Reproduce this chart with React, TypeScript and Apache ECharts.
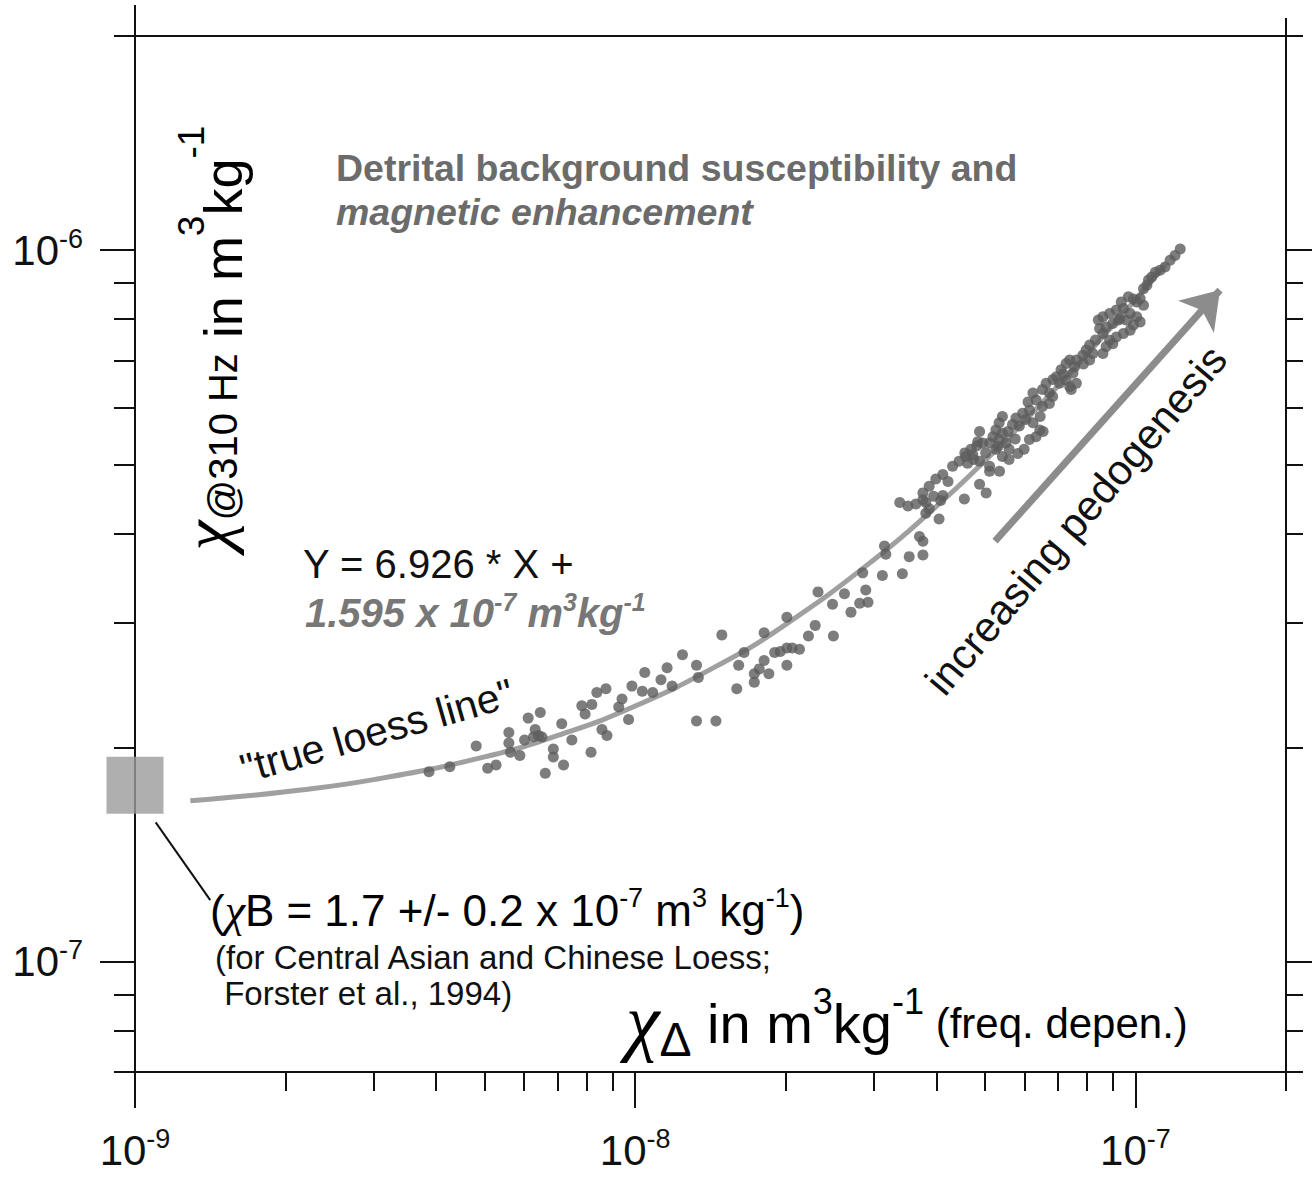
import React, { useEffect, useRef } from "react";
import * as echarts from "echarts";

const FONT = "'Liberation Sans', Arial, Helvetica, sans-serif";
const SERIF = "'Liberation Serif', 'Times New Roman', serif";
const X_UNIT = 1e-9; // chi_FD values below are in 1e-9 m3/kg
const Y_UNIT = 1e-7; // chi_310Hz values below are in 1e-7 m3/kg

const X_MIN = 1e-9;
const X_MAX = 2e-7;
const Y_MIN = 7e-8;
const Y_MAX = 2e-6;

// measured samples (x: chi frequency dependent, y: chi @ 310 Hz)
const chiFdNano = [
  3.87, 4.26, 4.81, 5.07, 5.27, 5.59, 5.63, 5.59, 5.88, 6.01, 6.26, 6.51, 6.31, 6.41, 6.11, 6.46, 6.86, 6.86, 7.19, 6.61,
  7.13, 7.47, 8.16, 8.58, 8.78, 7.82, 8.19, 7.94, 8.38, 8.74, 9.41, 9.27, 9.7, 9.85, 10.33, 10.84, 10.45, 11.26, 11.58, 11.85,
  12.43, 13.26, 13.37, 13.26, 14.5, 14.9,
  15.96, 16.1, 16.5, 17.3, 17.7, 18.1, 18.5, 17.3, 18.1, 19.0, 19.5, 20.1, 20.6, 21.3, 20.1, 20.1, 22.2, 22.9, 24.9, 23.2,
  24.8, 26.2, 27.0, 28.1, 29.2, 28.9, 28.5, 31.2, 34.2, 31.5, 31.7, 35.3, 37.6, 37.0, 37.6, 33.8, 36.4, 37.6, 38.7, 38.7,
  39.5, 41.2, 40.8, 40.5, 45.5, 48.8, 50.3, 44.4, 45.8, 47.3, 48.8, 51.1, 53.5, 48.8,
  122.9, 120, 117.3, 114.6, 112, 107.8, 105.4, 103.8, 102.2, 100.6, 99.1, 103.8, 94.6, 91.6, 88.8, 86.1, 97.6, 100.6, 102.2, 99.1,
  96.1, 93.1, 90.1, 87.4, 84.8, 86.1, 97.6, 94.6, 91.6, 88.8, 87.4, 86.1, 90.1, 81.0, 79.7, 78.5, 76.2, 73.9, 72.7, 75.6,
  81.0, 82.2, 71.0, 69.5, 70.5, 72.7, 75.0, 76.2, 73.9, 66.3, 65.2, 67.3, 62.4, 63.3, 65.2, 67.3, 68.3, 61.4, 59.5, 57.7,
  56.8, 58.6, 60.4, 62.4, 64.4, 63.3, 61.4, 59.9, 54.2, 53.4, 52.6, 51.9, 51.1, 54.2, 55.1, 55.9, 53.4, 52.6, 54.2, 55.9,
  49.5, 48.2, 46.9, 45.6, 46.2, 47.5, 50.2, 51.1, 39.9, 37.6, 38.1, 41.2, 38.1,
  55.6, 57.5, 53.1, 58.2, 48.4, 61.0, 64.5, 68.4, 71.7, 78.7, 83.2, 84.3, 92.5, 93.7, 96.8, 106.2, 109.6, 42.2, 43.1, 35.1,
  65.4, 74.4,
];
const chi310E7 = [
  1.85, 1.88, 2.01, 1.87, 1.89, 2.03, 1.97, 2.1, 1.95, 2.05, 2.07, 2.07, 2.12, 2.08, 2.2, 2.24, 1.99, 1.94, 1.89, 1.84,
  2.16, 2.05, 1.97, 2.12, 2.08, 2.29, 2.3, 2.23, 2.39, 2.42, 2.34, 2.28, 2.19, 2.44, 2.4, 2.39, 2.55, 2.49, 2.59, 2.44,
  2.7, 2.61, 2.51, 2.18, 2.18, 2.88,
  2.42, 2.61, 2.72, 2.54, 2.58, 2.65, 2.54, 2.47, 2.9, 2.72, 2.73, 2.76, 2.76, 2.75, 2.61, 3.05, 2.87, 2.97, 2.87, 3.31,
  3.18, 3.29, 3.1, 3.19, 3.2, 3.33, 3.52, 3.49, 3.51, 3.84, 3.74, 3.71, 3.73, 3.96, 3.9, 4.42, 4.4, 4.46, 4.33, 4.66,
  4.51, 4.84, 4.45, 4.19, 4.47, 4.69, 4.56, 5.05, 5.13, 5.16, 5.05, 4.89, 4.89, 5.56,
  10.04, 9.83, 9.68, 9.47, 9.37, 9.17, 8.93, 8.83, 8.55, 8.46, 8.54, 8.37, 8.28, 8.24, 8.15, 8.06, 8.15, 8.06, 7.93, 7.85,
  7.97, 8.01, 7.89, 7.8, 7.76, 7.64, 7.72, 7.64, 7.55, 7.47, 7.32, 7.16, 7.39, 7.36, 7.24, 7.12, 7.01, 7.01, 6.93, 6.86,
  7.01, 7.16, 6.79, 6.64, 6.5, 6.57, 6.72, 6.5, 6.43, 6.5, 6.37, 6.3, 6.3, 6.16, 6.03, 6.09, 6.23, 5.96, 5.9, 5.81,
  5.69, 5.66, 5.78, 5.72, 5.59, 5.47, 5.42, 5.25, 5.84, 5.72, 5.59, 5.47, 5.36, 5.53, 5.36, 5.25, 5.42, 5.25, 5.13, 5.08,
  5.36, 5.31, 5.25, 5.19, 5.02, 5.08, 5.19, 4.97, 4.77, 4.56, 4.42, 4.52, 4.27,
  5.56, 5.43, 5.3, 5.18, 5.38, 6.12, 5.84, 6.58, 6.7, 6.92, 7.48, 7.98, 7.98, 8.46, 8.6, 9.08, 9.31, 4.73, 4.97, 4.37,
  5.56, 6.37,
];

// "true loess line" as drawn (Y = 6.926 * X + 1.595e-7)
const loessXNano = [1.29, 1.5, 2, 3, 5, 7, 10, 15, 20, 30, 40, 50, 60, 70, 80, 100, 115];
const loessYE7 = [1.684, 1.699, 1.734, 1.803, 1.941, 2.08, 2.288, 2.634, 2.98, 3.673, 4.365, 5.058, 5.751, 6.443, 7.136, 8.521, 9.56];

// detrital background susceptibility chi_B (square marker)
const backgroundXNano = 1.0;
const backgroundYE7 = 1.77;

// annotation anchors (data space)
const arrowFrom = [52.4e-9, 3.9e-7];
const arrowTo = [147.6e-9, 8.79e-7];
const connectorFrom = [1.1e-9, 1.57e-7];
const connectorTo = [1.414e-9, 1.221e-7];

// tick values
const xMajorTicks = [1e-9, 1e-8, 1e-7];
const xMinorTicks = [
  2e-9, 3e-9, 4e-9, 5e-9, 6e-9, 7e-9, 8e-9, 9e-9,
  2e-8, 3e-8, 4e-8, 5e-8, 6e-8, 7e-8, 8e-8, 9e-8, 2e-7,
];
const yMajorTicks = [1e-7, 1e-6];
const yMinorTicks = [7e-8, 8e-8, 9e-8, 2e-7, 3e-7, 4e-7, 5e-7, 6e-7, 7e-7, 8e-7, 9e-7, 2e-6];
const xTopTicksLong = [1e-9];
const xTopTicksShort = [2e-7];

const AXIS_COLOR = "#111";

const powLabel = (v: number) => {
  const e = Math.round(Math.log10(v));
  return `{a|10}{b|${e}}`;
};
const powRich = {
  a: { fontSize: 42, lineHeight: 50, fontFamily: FONT, color: "#111" },
  b: { fontSize: 27, lineHeight: 34, verticalAlign: "top", fontFamily: FONT, color: "#111" },
};

function logAxis(kind: "x" | "y", extra: any) {
  return {
    type: "log",
    logBase: 10,
    min: kind === "x" ? X_MIN : Y_MIN,
    max: kind === "x" ? X_MAX : Y_MAX,
    splitLine: { show: false },
    minorTick: { show: false },
    minorSplitLine: { show: false },
    axisLine: { show: false, lineStyle: { color: AXIS_COLOR, width: 2 } },
    axisTick: { show: false },
    axisLabel: { show: false },
    ...extra,
  };
}

export default function App() {
  const ref = useRef<HTMLDivElement>(null);

  useEffect(() => {
    const chart = echarts.init(ref.current!, null, { renderer: "svg" });

    const points = chiFdNano.map((x, i) => [x * X_UNIT, chi310E7[i] * Y_UNIT]);
    const loess = loessXNano.map((x, i) => [x * X_UNIT, loessYE7[i] * Y_UNIT]);

    const tick = (values: number[], length: number) => ({
      show: true,
      customValues: values,
      length,
      lineStyle: { color: AXIS_COLOR, width: 2 },
    });

    const option: any = {
      animation: false,
      backgroundColor: "#fff",
      grid: { left: 135, right: 29, top: 36, bottom: 106, containLabel: false },
      xAxis: [
        logAxis("x", {
          position: "bottom",
          axisLine: { show: true, lineStyle: { color: AXIS_COLOR, width: 2 } },
          axisTick: tick(xMajorTicks, 36),
          axisLabel: {
            show: true,
            customValues: xMajorTicks,
            formatter: powLabel,
            rich: powRich,
            margin: 53,
            verticalAlign: "top",
          },
        }),
        logAxis("x", { position: "bottom", axisTick: tick(xMinorTicks, 19) }),
        logAxis("x", {
          position: "top",
          axisLine: { show: true, lineStyle: { color: AXIS_COLOR, width: 2 } },
          axisTick: tick(xTopTicksLong, 31),
        }),
        logAxis("x", { position: "top", axisTick: tick(xTopTicksShort, 18) }),
      ],
      yAxis: [
        logAxis("y", {
          position: "left",
          axisLine: { show: true, lineStyle: { color: AXIS_COLOR, width: 2 } },
          axisTick: tick(yMajorTicks, 35),
          axisLabel: {
            show: true,
            customValues: yMajorTicks,
            formatter: powLabel,
            rich: powRich,
            margin: 52,
          },
        }),
        logAxis("y", { position: "left", axisTick: tick(yMinorTicks, 21) }),
        logAxis("y", {
          position: "right",
          axisLine: { show: true, lineStyle: { color: AXIS_COLOR, width: 2 } },
          axisTick: tick(yMajorTicks, 26),
        }),
        logAxis("y", { position: "right", axisTick: tick(yMinorTicks, 17) }),
      ],
      series: [
        {
          name: "true loess line",
          type: "line",
          xAxisIndex: 0,
          yAxisIndex: 0,
          data: loess,
          smooth: true,
          showSymbol: false,
          symbol: "none",
          lineStyle: { color: "#a0a0a0", width: 5 },
          z: 2,
          markLine: {
            silent: true,
            symbol: ["none", "arrow"],
            symbolSize: 36,
            label: { show: false },
            lineStyle: { color: "#8c8c8c", width: 7, type: "solid" },
            data: [[{ coord: arrowFrom }, { coord: arrowTo }]],
          },
        },
        {
          name: "samples",
          type: "scatter",
          xAxisIndex: 0,
          yAxisIndex: 0,
          data: points,
          symbol: "circle",
          symbolSize: 11,
          itemStyle: { color: "#5d5d5d" },
          z: 3,
        },
        {
          name: "chi B",
          type: "scatter",
          xAxisIndex: 0,
          yAxisIndex: 0,
          clip: false,
          data: [[backgroundXNano * X_UNIT, backgroundYE7 * Y_UNIT]],
          symbol: "rect",
          symbolSize: 57,
          itemStyle: { color: "#9b9b9b" },
          z: 4,
          markLine: {
            silent: true,
            symbol: ["none", "none"],
            label: { show: false },
            lineStyle: { color: "#111", width: 2, type: "solid" },
            data: [[{ coord: connectorFrom }, { coord: connectorTo }]],
          },
        },
      ],
      graphic: [
        {
          type: "text",
          x: 336,
          y: 168,
          style: {
            text: "Detrital background susceptibility and",
            fill: "#6b6b6b",
            fontFamily: FONT,
            fontWeight: "bold",
            fontSize: 37.5,
            align: "left",
            verticalAlign: "middle",
          },
        },
        {
          type: "text",
          x: 336,
          y: 212,
          style: {
            text: "magnetic enhancement",
            fill: "#6b6b6b",
            fontFamily: FONT,
            fontWeight: "bold",
            fontStyle: "italic",
            fontSize: 37.5,
            align: "left",
            verticalAlign: "middle",
          },
        },
        {
          type: "text",
          x: 303,
          y: 564,
          style: {
            text: "Y = 6.926 * X +",
            fill: "#111",
            fontFamily: FONT,
            fontSize: 40,
            align: "left",
            verticalAlign: "middle",
          },
        },
        {
          type: "text",
          x: 305,
          y: 613,
          style: {
            text: "{m|1.595 x 10}{s|-7}{m| m}{s|3}{m|kg}{s|-1}",
            fill: "#777",
            align: "left",
            verticalAlign: "middle",
            rich: {
              m: { fontSize: 40, lineHeight: 48, fontFamily: FONT, fontWeight: "bold", fontStyle: "italic", color: "#777" },
              s: { fontSize: 25, lineHeight: 24, verticalAlign: "top", fontFamily: FONT, fontWeight: "bold", fontStyle: "italic", color: "#777" },
            },
          },
        },
        {
          type: "text",
          x: 377,
          y: 731,
          rotation: 0.28,
          style: {
            text: '"true loess line"',
            fill: "#111",
            fontFamily: FONT,
            fontSize: 41,
            align: "center",
            verticalAlign: "middle",
          },
        },
        {
          type: "text",
          x: 1076,
          y: 520,
          rotation: 0.87,
          style: {
            text: "increasing pedogenesis",
            fill: "#111",
            fontFamily: FONT,
            fontSize: 42,
            align: "center",
            verticalAlign: "middle",
          },
        },
        {
          type: "text",
          x: 223,
          y: 338,
          rotation: Math.PI / 2,
          style: {
            text: "{c|χ}{s|@310 Hz}{m| in m}{p|3}{m|kg}{p|-1}",
            align: "center",
            verticalAlign: "middle",
            rich: {
              c: { fontSize: 68, lineHeight: 70, verticalAlign: "top", fontFamily: SERIF, fontStyle: "italic", color: "#111" },
              m: { fontSize: 54, lineHeight: 100, fontFamily: FONT, color: "#111" },
              s: { fontSize: 40, lineHeight: 100, fontFamily: FONT, color: "#111" },
              p: { fontSize: 37, lineHeight: 22, verticalAlign: "top", fontFamily: FONT, color: "#111" },
            },
          },
        },
        {
          type: "text",
          x: 626,
          y: 1023,
          style: {
            text: "{c|χ}{d|Δ}{m| in m}{p|3}{m|kg}{p|-1}{f| (freq. depen.)}",
            align: "left",
            verticalAlign: "middle",
            rich: {
              c: { fontSize: 76, lineHeight: 63, verticalAlign: "top", fontFamily: SERIF, fontStyle: "italic", color: "#111" },
              d: { fontSize: 48, lineHeight: 45, verticalAlign: "bottom", fontFamily: FONT, color: "#111" },
              m: { fontSize: 56, lineHeight: 80, fontFamily: FONT, color: "#111" },
              p: { fontSize: 36, lineHeight: 28, verticalAlign: "top", fontFamily: FONT, color: "#111" },
              f: { fontSize: 42, lineHeight: 80, fontFamily: FONT, color: "#111" },
            },
          },
        },
        {
          type: "text",
          x: 210,
          y: 910,
          style: {
            text: "{m|(}{c|χ}{m|B = 1.7 +/- 0.2 x 10}{s|-7}{m| m}{s|3}{m| kg}{s|-1}{m|)}",
            align: "left",
            verticalAlign: "middle",
            rich: {
              m: { fontSize: 44, lineHeight: 52, fontFamily: FONT, color: "#111" },
              c: { fontSize: 46, lineHeight: 52, fontFamily: SERIF, fontStyle: "italic", color: "#111" },
              s: { fontSize: 27, lineHeight: 27, verticalAlign: "top", fontFamily: FONT, color: "#111" },
            },
          },
        },
        {
          type: "text",
          x: 215,
          y: 957,
          style: {
            text: "(for Central Asian and Chinese Loess;",
            fill: "#111",
            fontFamily: FONT,
            fontSize: 33,
            align: "left",
            verticalAlign: "middle",
          },
        },
        {
          type: "text",
          x: 215,
          y: 993,
          style: {
            text: " Forster et al., 1994)",
            fill: "#111",
            fontFamily: FONT,
            fontSize: 33,
            align: "left",
            verticalAlign: "middle",
          },
        },
      ],
    };

    chart.setOption(option);
    return () => chart.dispose();
  }, []);

  return (
    <div
      ref={ref}
      style={{ position: "fixed", left: 0, top: 0, width: 1315, height: 1178, background: "#fff" }}
    />
  );
}
